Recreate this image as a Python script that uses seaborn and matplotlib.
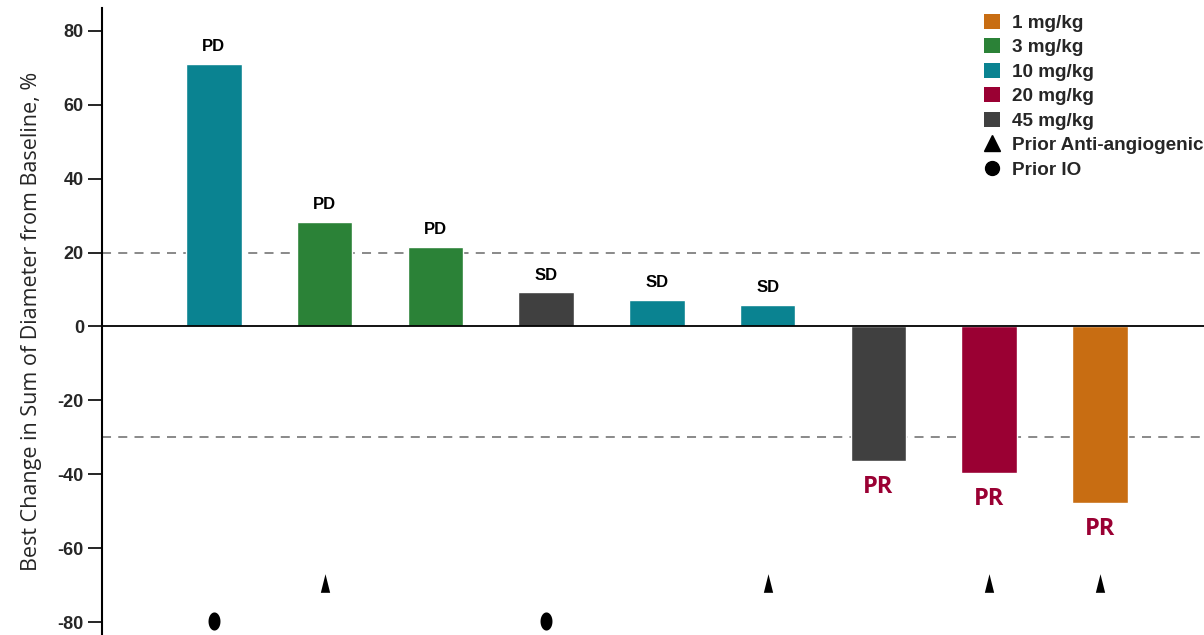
import numpy as np
import pandas as pd
import matplotlib
matplotlib.use("Agg")
import matplotlib.pyplot as plt
from matplotlib.path import Path
from matplotlib.patches import Patch
from matplotlib.lines import Line2D
import seaborn as sns

# ---- data ----
patients = ["P1", "P2", "P3", "P4", "P5", "P6", "P7", "P8", "P9"]
best_change = [71.1, 28.4, 21.6, 9.2, 7.3, 5.9, -36.5, -39.7, -47.8]
doses = ["10 mg/kg", "3 mg/kg", "3 mg/kg", "45 mg/kg", "10 mg/kg", "10 mg/kg",
         "45 mg/kg", "20 mg/kg", "1 mg/kg"]
responses = ["PD", "PD", "PD", "SD", "SD", "SD", "PR", "PR", "PR"]
dose_order = ["1 mg/kg", "3 mg/kg", "10 mg/kg", "20 mg/kg", "45 mg/kg"]
dose_colors = ["#c86d12", "#2b8237", "#0a8391", "#9a0033", "#404040"]
prior_antiangio = ["P2", "P6", "P8", "P9"]
prior_io = ["P1", "P4"]
antiangio_y = -69.5
io_y = -79.8
ref_lines = [20, -30]
yticks = [80, 60, 40, 20, 0, -20, -40, -60, -80]

df = pd.DataFrame({"patient": patients, "change": best_change, "dose": doses})

sns.set_style("white")
fig = plt.figure(figsize=(12.04, 6.35), dpi=100)
ax = fig.add_axes([102 / 1204, 0.0, 1 - 102 / 1204, 1 - 8 / 635])

sns.barplot(data=df, x="patient", y="change", hue="dose", hue_order=dose_order,
            palette=dict(zip(dose_order, dose_colors)), dodge=False, width=0.5,
            saturation=1, order=patients, ax=ax, legend=False)

ax.set_xlim(-1.01, 8.94)
ax.set_ylim(-83.5, 86.2)

for v in ref_lines:
    ax.axhline(v, color="#808080", lw=1.3, ls=(0, (5, 4)), zorder=0)
ax.axhline(0, color="black", lw=1.3, zorder=3)

# labels
for i, (val, r) in enumerate(zip(best_change, responses)):
    if r == "PR":
        ax.text(i, val - 3.7, r, ha="center", va="top", fontsize=17,
                fontweight="bold", color="#9a0033", family="Open Sans")
    else:
        ax.text(i, val + 2.6, r, ha="center", va="bottom", fontsize=12,
                fontweight="bold", color="black", family="Liberation Sans")

# elongated markers
tri = Path([(-0.5, -1), (0.5, -1), (0, 1), (-0.5, -1)],
           [Path.MOVETO, Path.LINETO, Path.LINETO, Path.CLOSEPOLY])
th = np.linspace(0, 2 * np.pi, 60)
ell = Path(np.column_stack([0.66 * np.cos(th), np.sin(th)]))
xa = [patients.index(p) for p in prior_antiangio]
xi = [patients.index(p) for p in prior_io]
ax.scatter(xa, [antiangio_y] * len(xa), marker=tri, s=180, color="black",
           linewidths=0, zorder=4, clip_on=False)
ax.scatter(xi, [io_y] * len(xi), marker=ell, s=170, color="black",
           linewidths=0, zorder=4, clip_on=False)

# axes styling
ax.set_xlabel("")
ax.set_xticks([])
ax.set_yticks(yticks)
ax.set_yticklabels([str(t) for t in yticks], fontsize=13, fontweight="bold",
                   family="Liberation Sans")
ax.tick_params(axis="y", direction="out", length=10, width=1.2, color="black",
               left=True, pad=3)
ax.set_ylabel("Best Change in Sum of Diameter from Baseline, %", fontsize=15.5,
              family="Open Sans", labelpad=11)
for s in ["top", "right", "bottom"]:
    ax.spines[s].set_visible(False)
ax.spines["left"].set_color("black")
ax.spines["left"].set_linewidth(1.5)

# legend
handles = [Patch(facecolor=c, edgecolor="none") for c in dose_colors]
handles += [Line2D([], [], marker="^", color="black", ls="none", markersize=11),
            Line2D([], [], marker="o", color="black", ls="none", markersize=10)]
labels = dose_order + ["Prior Anti-angiogenic", "Prior IO"]
leg = ax.legend(handles, labels, loc="upper left", bbox_to_anchor=(0.7846, 1.018),
                frameon=False, handlelength=0.85, handleheight=0.85,
                handletextpad=0.65, labelspacing=0.34,
                prop={"family": "Liberation Sans", "weight": "bold", "size": 13.6})

fig.savefig("out.png", dpi=100)
